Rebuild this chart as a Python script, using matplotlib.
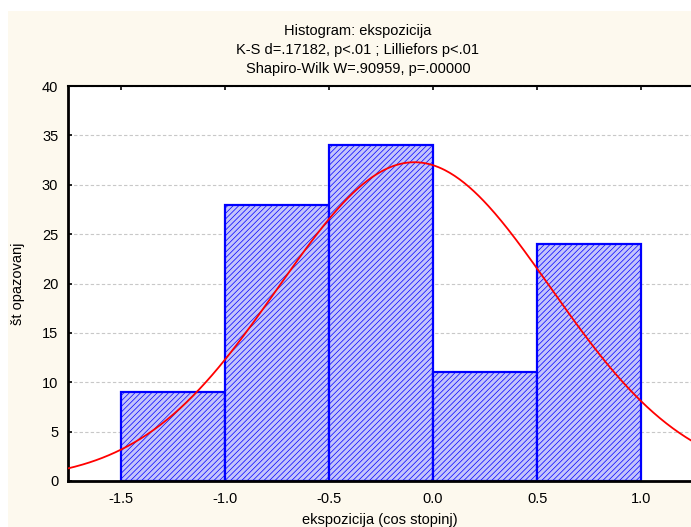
import numpy as np
import matplotlib
matplotlib.use("Agg")
import matplotlib.pyplot as plt
from matplotlib.patches import Rectangle

# histogram bins and counts
binEdges = [-1.5, -1.0, -0.5, 0.0, 0.5, 1.0]
counts = [9, 28, 34, 11, 24]

# fitted normal curve parameters
fitMean = -0.09
fitSd = 0.655

titleLines = ["Histogram: ekspozicija",
              "K-S d=.17182, p<.01 ; Lilliefors p<.01",
              "Shapiro-Wilk W=.90959, p=.00000"]
xTicks = [-1.5, -1.0, -0.5, 0.0, 0.5, 1.0]
yTicks = [0, 5, 10, 15, 20, 25, 30, 35, 40]

CREAM = '#fdf9ee'
FONTSIZE = 10.5

plt.rcParams['font.family'] = ['Liberation Sans', 'DejaVu Sans']
plt.rcParams['font.size'] = FONTSIZE
plt.rcParams['hatch.linewidth'] = 0.5

fig = plt.figure(figsize=(6.91, 5.27), dpi=100)
fig.patches.append(Rectangle((8 / 691, 0), 1, 1 - 11 / 527, transform=fig.transFigure,
                             facecolor=CREAM, edgecolor='none', zorder=-10))

ax = fig.add_axes([68 / 691, 46 / 527, 1 - 68 / 691, 395 / 527])
ax.set_facecolor('white')

widths = np.diff(binEdges)
ax.bar(binEdges[:-1], counts, width=widths, align='edge', facecolor='#c4c4fb',
       edgecolor='#0000ff', linewidth=1.6, hatch='//////', zorder=2)

xs = np.linspace(-1.8, 1.3, 400)
total = sum(counts) * widths[0]
ys = total / (fitSd * np.sqrt(2 * np.pi)) * np.exp(-0.5 * ((xs - fitMean) / fitSd) ** 2)
ax.plot(xs, ys, color='red', linewidth=1.3, zorder=3)

ax.set_xlim(-1.755, 1.24)
ax.set_ylim(0, 40)
ax.set_xticks(xTicks)
ax.set_xticklabels(['%.1f' % t for t in xTicks])
ax.set_yticks(yTicks)
ax.grid(axis='y', color='#c8c8c8', linestyle=(0, (3, 2)), linewidth=0.8)
ax.set_axisbelow(True)

ax.spines['right'].set_visible(False)
for side in ['left', 'bottom']:
    ax.spines[side].set_linewidth(2)
ax.spines['top'].set_linewidth(1.5)
ax.tick_params(direction='in', length=3, width=1.2, top=True, bottom=False,
               labelsize=FONTSIZE, colors='black', pad=7)
ax.tick_params(axis='x', pad=8)

ax.set_xlabel('ekspozicija (cos stopinj)', fontsize=FONTSIZE, labelpad=5)
ax.set_ylabel('št opazovanj', fontsize=FONTSIZE, labelpad=12)
fig.text(358 / 691, 1 - 50 / 527, '\n'.join(titleLines), fontsize=FONTSIZE,
         linespacing=1.45, ha='center', va='center')

fig.savefig('out.png', dpi=100, facecolor='white')
